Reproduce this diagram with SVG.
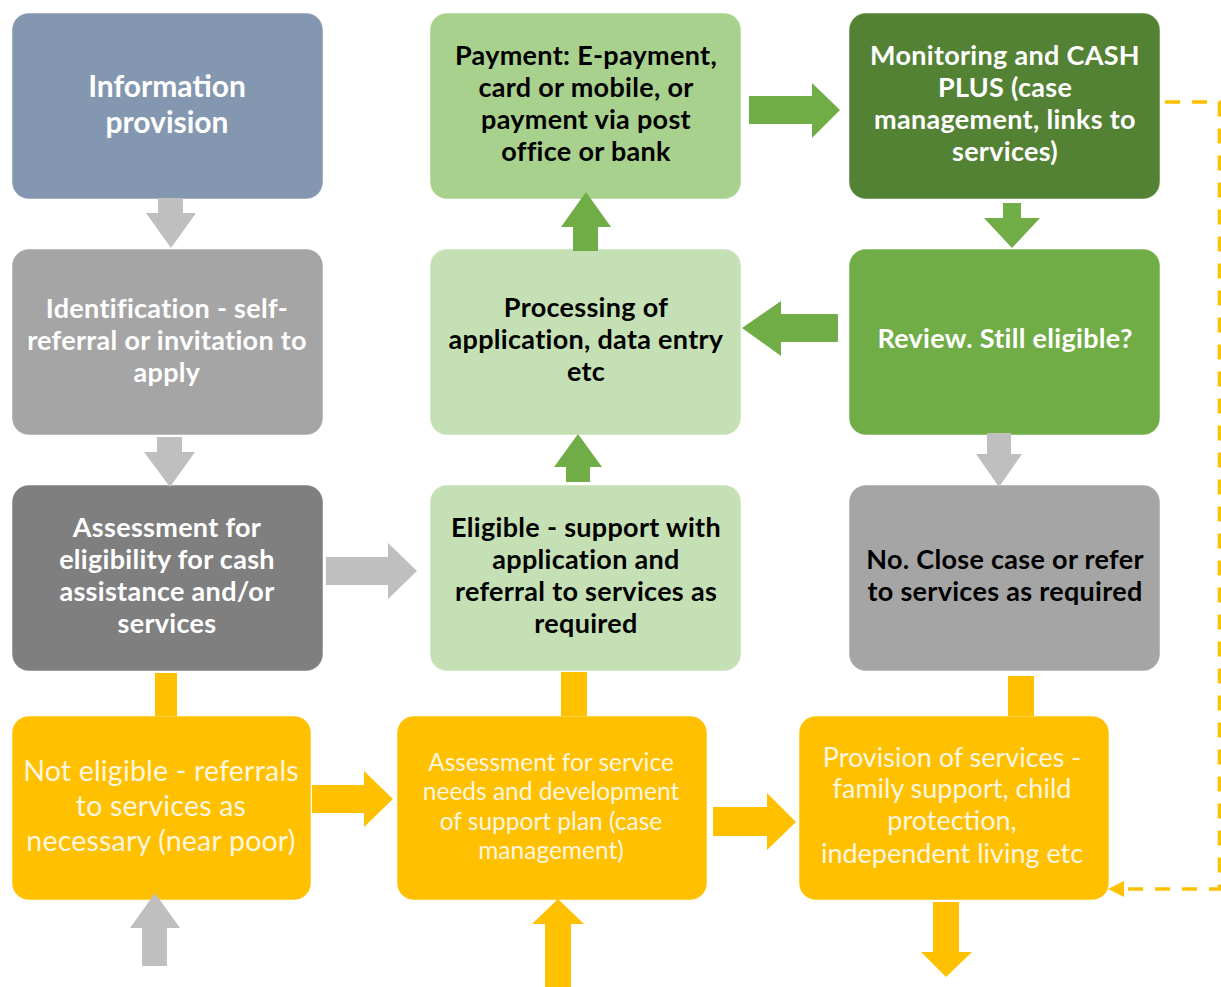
<svg xmlns="http://www.w3.org/2000/svg" width="1221" height="987" viewBox="0 0 1221 987">
<style>
.box{stroke:#ffffff;stroke-width:1;stroke-opacity:0.5}
.t{font-family:Lato,"Open Sans","Liberation Sans",sans-serif;font-weight:bold;font-size:27px;letter-spacing:0.3px;text-anchor:middle}
.ty{font-family:Lato,"Open Sans","Liberation Sans",sans-serif;font-weight:normal;text-anchor:middle;fill:#FFF6E0}
.w{fill:#ffffff}
.k{fill:#000000}
.ga{fill:#BFBFBF}
.gr{fill:#70AD47}
.ye{fill:#FFC000}
</style>
<rect width="1221" height="987" fill="#ffffff"/>
<g id="info">
<rect class="box" x="12" y="13" width="311" height="186" rx="17" fill="#8497B0"/>
<text class="t w" style="font-size:30px;letter-spacing:0"><tspan x="167" y="97">Information</tspan><tspan x="167" y="133">provision</tspan></text>
</g>
<g id="identification">
<rect class="box" x="12" y="249" width="311" height="186" rx="17" fill="#A5A5A5"/>
<text class="t w"><tspan x="167" y="318">Identification - self-</tspan><tspan x="167" y="350">referral or invitation to</tspan><tspan x="167" y="382">apply</tspan></text>
</g>
<g id="assessment">
<rect class="box" x="12" y="485" width="311" height="186" rx="17" fill="#7F7F7F"/>
<text class="t w"><tspan x="167" y="537">Assessment for</tspan><tspan x="167" y="569">eligibility for cash</tspan><tspan x="167" y="601">assistance and/or</tspan><tspan x="167" y="633">services</tspan></text>
</g>
<g id="payment">
<rect class="box" x="430" y="13" width="311" height="186" rx="17" fill="#A9D18E"/>
<text class="t k"><tspan x="586" y="65">Payment: E-payment,</tspan><tspan x="586" y="97">card or mobile, or</tspan><tspan x="586" y="129">payment via post</tspan><tspan x="586" y="161">office or bank</tspan></text>
</g>
<g id="processing">
<rect class="box" x="430" y="249" width="311" height="186" rx="17" fill="#C5E0B4"/>
<text class="t k"><tspan x="586" y="317">Processing of</tspan><tspan x="586" y="349">application, data entry</tspan><tspan x="586" y="381">etc</tspan></text>
</g>
<g id="eligible">
<rect class="box" x="430" y="485" width="311" height="186" rx="17" fill="#C5E0B4"/>
<text class="t k"><tspan x="586" y="537">Eligible - support with</tspan><tspan x="586" y="569">application and</tspan><tspan x="586" y="601">referral to services as</tspan><tspan x="586" y="633">required</tspan></text>
</g>
<g id="monitoring">
<rect class="box" x="849" y="13" width="311" height="186" rx="17" fill="#548235"/>
<text class="t w"><tspan x="1005" y="65">Monitoring and CASH</tspan><tspan x="1005" y="97">PLUS (case</tspan><tspan x="1005" y="129">management, links to</tspan><tspan x="1005" y="161">services)</tspan></text>
</g>
<g id="review">
<rect class="box" x="849" y="249" width="311" height="186" rx="17" fill="#70AD47"/>
<text class="t w"><tspan x="1005" y="348">Review. Still eligible?</tspan></text>
</g>
<g id="no">
<rect class="box" x="849" y="485" width="311" height="186" rx="17" fill="#A5A5A5"/>
<text class="t k"><tspan x="1005" y="569">No. Close case or refer</tspan><tspan x="1005" y="601">to services as required</tspan></text>
</g>
<g id="not-eligible">
<rect class="box" x="12" y="716" width="299" height="184" rx="17" fill="#FFC000"/>
<text class="ty" style="font-size:28.5px;letter-spacing:0.2px"><tspan x="161" y="781">Not eligible - referrals</tspan><tspan x="161" y="816">to services as</tspan><tspan x="161" y="851">necessary (near poor)</tspan></text>
</g>
<g id="service-assessment">
<rect class="box" x="397" y="716" width="310" height="184" rx="17" fill="#FFC000"/>
<text class="ty" style="font-size:24.5px"><tspan x="551" y="771">Assessment for service</tspan><tspan x="551" y="800">needs and development</tspan><tspan x="551" y="830">of support plan (case</tspan><tspan x="551" y="859">management)</tspan></text>
</g>
<g id="provision">
<rect class="box" x="799" y="716" width="310" height="184" rx="17" fill="#FFC000"/>
<text class="ty" style="font-size:27px"><tspan x="952" y="767">Provision of services -</tspan><tspan x="952" y="798">family support, child</tspan><tspan x="952" y="830">protection,</tspan><tspan x="952" y="863">independent living etc</tspan></text>
</g>
<g id="connectors">
<polygon class="ga" points="158,198 183,198 183,213 196,213 171,248 146,213 158,213"/>
<polygon class="ga" points="157,437 182,437 182,452 195,452 170,487 144,452 157,452"/>
<polygon class="ga" points="326,557 388,557 388,543 417,571 388,599 388,585 326,585"/>
<polygon class="gr" points="566,482 566,467 554,467 578,434 602,467 590,467 590,482"/>
<polygon class="gr" points="573,251 573,227 561,227 586,192 611,227 598,227 598,251"/>
<polygon class="gr" points="838,314 781,314 781,301 742,328 781,356 781,342 838,342"/>
<polygon class="gr" points="749,96 812,96 812,83 840,110 812,138 812,124 749,124"/>
<polygon class="gr" points="1003,203 1021,203 1021,218 1040,218 1012,248 984,218 1003,218"/>
<polygon class="ga" points="987,433 1011,433 1011,454 1022,454 999,487 976,454 987,454"/>
<rect class="ye" x="155" y="673" width="22" height="43"/>
<rect class="ye" x="561" y="672" width="26" height="44"/>
<rect class="ye" x="1008" y="676" width="26" height="40"/>
<polygon class="ye" points="312,785 364,785 364,771 393,799 364,827 364,813 312,813"/>
<polygon class="ye" points="713,807 767,807 767,793 796,822 767,850 767,836 713,836"/>
<polygon class="ga" points="142,966 142,928 130,928 155,893 180,928 167,928 167,966"/>
<polygon class="ye" points="545,987 545,924 532,924 558,899 584,924 571,924 571,987"/>
<polygon class="ye" points="933,902 959,902 959,952 972,952 946,977 921,952 933,952"/>
<path d="M1165,102 H1219.5 V889 H1124" fill="none" stroke="#FFC000" stroke-width="3.5" stroke-dasharray="15 12"/>
<polygon class="ye" points="1108,889 1124,881 1124,897"/>
</g>
</svg>
